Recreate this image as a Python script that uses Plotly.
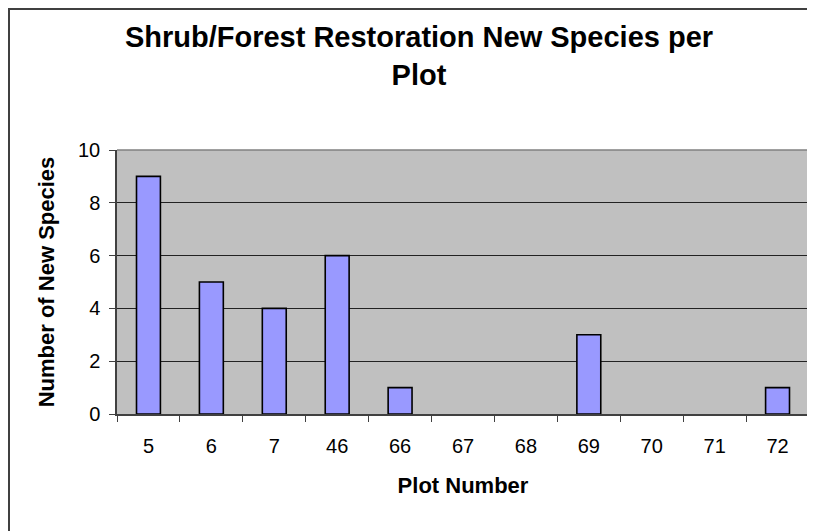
import plotly.graph_objects as go

plots = ["5", "6", "7", "46", "66", "67", "68", "69", "70", "71", "72"]
new_species = [9, 5, 4, 6, 1, 0, 0, 3, 0, 0, 1]
y_ticks = [0, 2, 4, 6, 8, 10]

chart_title = "Shrub/Forest Restoration New Species per<br>Plot"
x_title = "Plot Number"
y_title = "Number of New Species"

FONT = "Liberation Sans, Arial, sans-serif"
# page has an 8px body margin; figure coords = page coords - 8
W, H = 807, 523
L, R, T, B = 109, 6, 142, 117
PW, PH = W - L - R, H - T - B

outline_widths = [1.6 if v > 0 else 0 for v in new_species]

fig = go.Figure(
    go.Bar(
        x=plots,
        y=new_species,
        marker=dict(color="#9999FF", line=dict(color="#000000", width=outline_widths)),
    )
)

def px_x(px):
    return (px - L) / PW

def px_y(py):
    return (H - B - py) / PH

fig.update_layout(
    width=W,
    height=H,
    margin=dict(l=L, r=R, t=T, b=B),
    paper_bgcolor="white",
    plot_bgcolor="#C0C0C0",
    bargap=0.62,
    showlegend=False,
    font=dict(family=FONT, color="black", size=20),
    title=dict(
        text="<b>" + chart_title + "</b>",
        x=411 / W,
        xanchor="center",
        y=1 - 39 / H,
        yanchor="middle",
        font=dict(size=29, family=FONT, color="black"),
    ),
    xaxis=dict(
        type="category",
        tickson="boundaries",
        ticks="outside",
        ticklen=6,
        tickcolor="#404040",
        tickwidth=1,
        showline=True,
        linecolor="#404040",
        linewidth=1.5,
        showgrid=False,
        tickfont=dict(size=20, family=FONT),
        ticklabelstandoff=13,
        title=dict(text="<b>" + x_title + "</b>", font=dict(size=22, family=FONT), standoff=22),
    ),
    yaxis=dict(
        range=[0, 10],
        tickvals=y_ticks,
        ticks="outside",
        ticklen=6,
        tickcolor="#404040",
        showline=True,
        linecolor="#404040",
        linewidth=1.5,
        showgrid=True,
        gridcolor="#222222",
        gridwidth=1,
        zeroline=False,
        tickfont=dict(size=20, family=FONT),
        ticklabelstandoff=5,
        title=dict(text="<b>" + y_title + "</b>", font=dict(size=22, family=FONT), standoff=17),
    ),
    shapes=[
        dict(type="line", xref="paper", yref="paper", x0=0, x1=1, y0=1, y1=1,
             line=dict(color="#808080", width=1.5), layer="above"),
        dict(type="line", xref="paper", yref="paper", x0=1, x1=1, y0=0, y1=1,
             line=dict(color="#808080", width=1.5), layer="above"),
        dict(type="rect", xref="paper", yref="paper",
             x0=px_x(1), x1=px_x(830), y0=px_y(545), y1=px_y(1),
             line=dict(color="#404040", width=2), layer="below"),
    ],
)

fig.write_html("out.html")
